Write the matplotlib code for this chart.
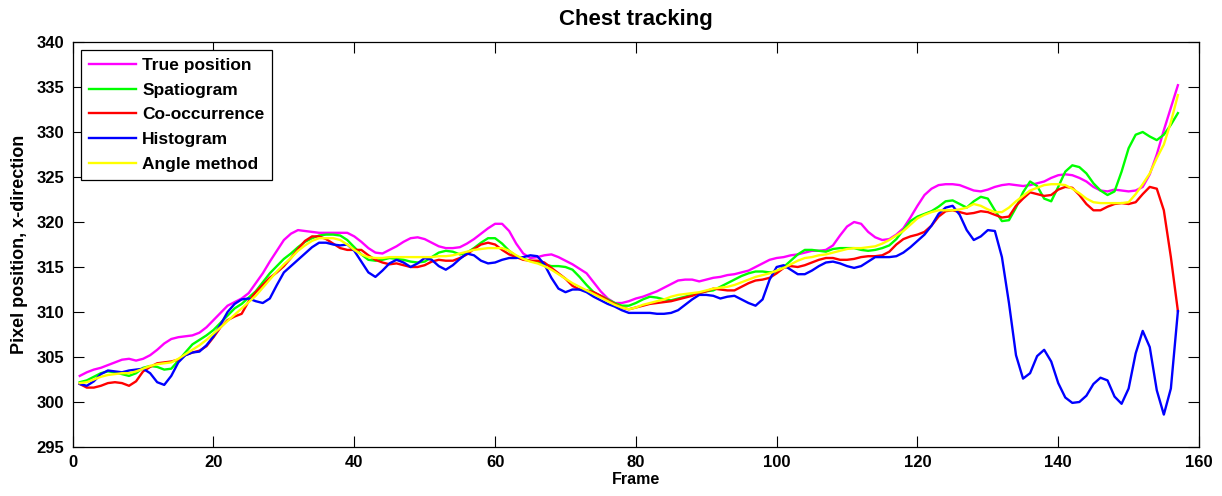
import numpy as np
import matplotlib
matplotlib.use("Agg")
import matplotlib.pyplot as plt

plt.rcParams['font.family'] = ['Liberation Sans', 'DejaVu Sans']
plt.rcParams['font.weight'] = 'bold'

frames = np.arange(1, 158)

true_position = [
    302.9, 303.3, 303.6, 303.8, 304.1, 304.4, 304.7, 304.8, 304.6, 304.8,
    305.2, 305.8, 306.5, 307.0, 307.2, 307.3, 307.4, 307.7, 308.3, 309.1,
    309.9, 310.7, 311.1, 311.5, 312.1, 313.2, 314.3, 315.6, 316.8, 318.0,
    318.7, 319.1, 319.0, 318.9, 318.8, 318.8, 318.8, 318.8, 318.8, 318.4,
    317.8, 317.1, 316.6, 316.5, 316.9, 317.3, 317.8, 318.2, 318.3, 318.1,
    317.7, 317.3, 317.1, 317.1, 317.2, 317.6, 318.1, 318.7, 319.3, 319.8,
    319.8, 319.0, 317.6, 316.5, 316.0, 316.1, 316.3, 316.4, 316.1, 315.7,
    315.3, 314.8, 314.3, 313.3, 312.3, 311.5, 311.0, 311.0, 311.2, 311.5,
    311.7, 312.0, 312.3, 312.7, 313.1, 313.5, 313.6, 313.6, 313.4, 313.6,
    313.8, 313.9, 314.1, 314.2, 314.4, 314.6, 315.0, 315.4, 315.8, 316.0,
    316.1, 316.3, 316.4, 316.6, 316.8, 316.8, 316.9, 317.4, 318.5, 319.5,
    320.0, 319.8, 318.9, 318.3, 318.0, 318.1, 318.6, 319.3, 320.5, 321.8,
    323.0, 323.7, 324.1, 324.2, 324.2, 324.1, 323.8, 323.5, 323.4, 323.6,
    323.9, 324.1, 324.2, 324.1, 324.0, 324.1, 324.3, 324.5, 324.9, 325.2,
    325.3, 325.2, 324.9, 324.5, 323.9, 323.5, 323.4, 323.6, 323.5, 323.4,
    323.5, 323.9, 325.3, 327.5, 330.2, 332.7, 335.2,
]

spatiogram = [
    302.2, 302.4, 302.8, 303.2, 303.4, 303.3, 303.1, 302.9, 303.2, 303.8,
    304.0, 303.9, 303.6, 303.7, 304.6, 305.5, 306.4, 306.9, 307.4, 308.0,
    308.8, 309.6, 310.4, 310.9, 311.6, 312.3, 313.3, 314.3, 315.1, 315.9,
    316.5, 317.2, 317.8, 318.2, 318.5, 318.6, 318.6, 318.5, 318.0, 317.2,
    316.4, 315.8, 315.7, 315.8, 316.0, 315.9, 315.8, 315.6, 315.5, 315.6,
    316.1, 316.6, 316.8, 316.7, 316.4, 316.6, 317.1, 317.7, 318.2, 318.2,
    317.6, 316.8, 316.2, 315.9, 315.7, 315.5, 315.3, 315.1, 315.1, 315.0,
    314.7, 313.9, 313.0, 312.2, 311.8, 311.4, 311.0, 310.7, 310.7, 311.0,
    311.4, 311.7, 311.6, 311.4, 311.3, 311.5, 311.7, 311.9, 312.1, 312.3,
    312.4, 312.8, 313.2, 313.6, 314.0, 314.3, 314.5, 314.5, 314.4, 314.5,
    315.0, 315.7, 316.4, 316.9, 316.9, 316.8, 316.7, 317.0, 317.1, 317.1,
    317.1, 316.9, 316.8, 316.9, 317.1, 317.4, 318.1, 319.1, 320.1, 320.6,
    320.9, 321.2, 321.7, 322.3, 322.4, 322.0, 321.6, 322.3, 322.8, 322.6,
    321.3, 320.1, 320.2, 321.6, 323.3, 324.5, 324.0, 322.6, 322.3, 323.9,
    325.6, 326.3, 326.1, 325.4, 324.3, 323.5, 323.0, 323.4, 325.6, 328.2,
    329.7, 330.0, 329.5, 329.1, 329.7, 330.8, 332.1,
]

co_occurrence = [
    302.0, 301.6, 301.6, 301.8, 302.1, 302.2, 302.1, 301.8, 302.3, 303.4,
    303.9, 304.3, 304.4, 304.5, 304.7, 305.2, 305.5, 305.7, 306.2, 307.2,
    308.3, 309.1, 309.5, 309.8, 311.2, 312.2, 313.0, 313.8, 314.4, 315.1,
    316.0, 317.0, 317.9, 318.4, 318.4, 318.1, 317.6, 317.1, 316.9, 316.9,
    316.9, 316.3, 315.8, 315.5, 315.3, 315.4, 315.2, 315.0, 315.0, 315.2,
    315.6, 315.8, 315.7, 315.7, 316.0, 316.4, 317.0, 317.5, 317.7, 317.5,
    316.9, 316.4, 316.1, 315.8, 315.7, 315.7, 315.5, 314.9, 314.3, 313.7,
    312.9, 312.5, 312.4, 312.2, 311.8, 311.3, 310.9, 310.5, 310.3, 310.5,
    310.7, 310.9, 311.0, 311.1, 311.2, 311.4, 311.6, 311.8, 312.1, 312.3,
    312.6, 312.5, 312.4, 312.4, 312.8, 313.2, 313.5, 313.6, 313.8, 314.3,
    314.9, 315.1, 315.0, 315.2, 315.5, 315.8, 316.0, 316.0, 315.8, 315.8,
    315.9, 316.1, 316.2, 316.2, 316.3, 316.7, 317.5, 318.1, 318.4, 318.6,
    318.9, 319.6, 320.6, 321.2, 321.3, 321.1, 320.9, 321.0, 321.2, 321.1,
    320.8, 320.5, 320.6, 321.8, 322.6, 323.3, 323.1, 322.9, 323.0, 323.6,
    323.9, 323.8, 323.0, 322.0, 321.3, 321.3, 321.7, 322.0, 322.1, 322.0,
    322.2, 323.1, 323.9, 323.7, 321.3, 316.1, 310.1,
]

histogram = [
    302.0, 301.8, 302.3, 303.1, 303.5, 303.4, 303.3, 303.5, 303.6, 303.7,
    303.2, 302.2, 301.9, 302.9, 304.4, 305.2, 305.5, 305.6, 306.3, 307.3,
    308.6, 310.0, 310.9, 311.4, 311.5, 311.2, 311.0, 311.5, 313.0, 314.4,
    315.1, 315.8, 316.5, 317.2, 317.7, 317.7, 317.5, 317.4, 317.5, 316.8,
    315.6, 314.4, 313.9, 314.6, 315.4, 315.8, 315.5, 315.0, 315.4, 316.0,
    315.8, 315.1, 314.7, 315.2, 315.9, 316.5, 316.3, 315.7, 315.4, 315.5,
    315.8, 316.0, 316.0, 316.1, 316.3, 316.2, 315.3, 313.8, 312.6, 312.2,
    312.5, 312.5, 312.2, 311.7, 311.3, 310.9, 310.6, 310.2, 309.9, 309.9,
    309.9, 309.9, 309.8, 309.8, 309.9, 310.2, 310.8, 311.4, 311.9, 311.9,
    311.8, 311.5, 311.7, 311.8, 311.4, 311.0, 310.7, 311.4, 313.6, 315.0,
    315.2, 314.7, 314.2, 314.2, 314.6, 315.1, 315.5, 315.6, 315.4, 315.1,
    314.9, 315.1, 315.6, 316.1, 316.1, 316.1, 316.2, 316.6, 317.2, 317.9,
    318.6, 319.6, 320.9, 321.6, 321.8, 320.8, 319.1, 318.0, 318.4, 319.1,
    319.0, 316.1, 311.0, 305.2, 302.6, 303.2, 305.1, 305.8, 304.5, 302.1,
    300.5, 299.9, 300.0, 300.7, 302.0, 302.7, 302.4, 300.6, 299.8, 301.5,
    305.4, 307.9, 306.1, 301.3, 298.6, 301.5, 310.1,
]

angle_method = [
    302.1, 302.2, 302.5, 302.8, 303.0, 303.1, 303.2, 303.2, 303.4, 303.7,
    304.0, 304.2, 304.3, 304.4, 304.8, 305.3, 305.8, 306.3, 306.9, 307.6,
    308.3, 309.0, 309.7, 310.4, 311.1, 311.8, 312.7, 313.6, 314.5, 315.3,
    316.0, 316.8, 317.4, 317.9, 318.2, 318.2, 318.2, 318.0, 317.5, 316.9,
    316.4, 316.1, 316.0, 316.0, 316.1, 316.1, 316.1, 316.1, 316.1, 316.1,
    316.1, 316.2, 316.2, 316.3, 316.5, 316.7, 316.9, 317.0, 317.1, 317.1,
    317.1, 316.8, 316.3, 315.9, 315.6, 315.4, 315.1, 314.7, 314.2, 313.7,
    313.2, 312.8, 312.4, 312.0, 311.6, 311.2, 310.8, 310.5, 310.3, 310.5,
    310.8, 311.0, 311.2, 311.4, 311.7, 311.9, 312.0, 312.1, 312.2, 312.4,
    312.6, 312.7, 312.8, 313.0, 313.3, 313.6, 313.9, 314.1, 314.3, 314.6,
    314.9, 315.3, 315.7, 316.0, 316.1, 316.3, 316.4, 316.6, 316.8, 317.0,
    317.1, 317.1, 317.2, 317.3, 317.6, 318.0, 318.5, 319.0, 319.7, 320.4,
    320.8, 321.1, 321.3, 321.3, 321.3, 321.4, 321.6, 322.0, 321.8, 321.4,
    321.1, 321.1, 321.6, 322.3, 322.9, 323.5, 323.8, 324.1, 324.2, 324.2,
    324.1, 323.7, 323.2, 322.6, 322.2, 322.1, 322.1, 322.1, 322.1, 322.2,
    323.1, 324.2, 325.4, 327.1, 328.6, 331.1, 334.1,
]

series = [
    ("True position", true_position, (1.0, 0.0, 1.0)),
    ("Spatiogram", spatiogram, (0.0, 1.0, 0.0)),
    ("Co-occurrence", co_occurrence, (1.0, 0.0, 0.0)),
    ("Histogram", histogram, (0.0, 0.0, 1.0)),
    ("Angle method", angle_method, (1.0, 1.0, 0.0)),
]

x_ticks = [0, 20, 40, 60, 80, 100, 120, 140, 160]
y_ticks = [295, 300, 305, 310, 315, 320, 325, 330, 335, 340]

fig = plt.figure(figsize=(12.22, 4.96), dpi=100)
ax = fig.add_axes([0.0595, 0.0988, 0.9217, 0.8165])

for label, values, color in series:
    ax.plot(frames, values, color=color, linewidth=1.7, label=label)

ax.set_xlim(0, 160)
ax.set_ylim(295, 340)
ax.set_xticks(x_ticks)
ax.set_yticks(y_ticks)
ax.tick_params(direction='in', length=8, width=0.8, top=True, right=True,
               labelsize=12, pad=6)
for lbl in ax.get_xticklabels() + ax.get_yticklabels():
    lbl.set_fontweight('bold')
for spine in ax.spines.values():
    spine.set_linewidth(0.9)

ax.set_title("Chest tracking", fontsize=16, fontweight='bold', pad=12)
ax.set_xlabel("Frame", fontsize=11.5, fontweight='bold', labelpad=1)
ax.set_ylabel("Pixel position, x-direction", fontsize=13, fontweight='bold', labelpad=6)

leg = ax.legend(loc='upper left', bbox_to_anchor=(0.0071, 0.980), borderaxespad=0,
                fancybox=False, edgecolor='black', framealpha=1,
                prop={'size': 12.5, 'weight': 'bold'},
                handlelength=2.75, handletextpad=0.35, labelspacing=0.55,
                borderpad=0.45)
leg.get_frame().set_linewidth(0.9)

fig.savefig("out.png", dpi=100)
